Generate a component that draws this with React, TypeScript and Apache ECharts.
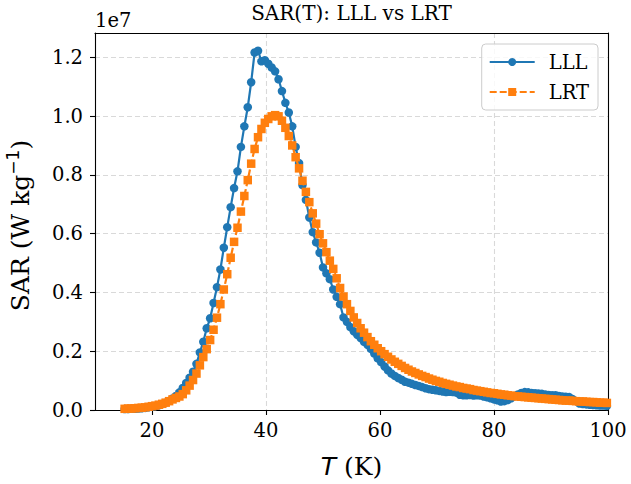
import React, { useEffect, useRef } from 'react';
import * as echarts from 'echarts';

// Temperature grid (K)
const temperatureK = [
  15.2, 15.8, 16.4, 17.0, 17.6, 18.2, 18.8, 19.4, 20.0, 20.6,
  21.2, 21.8, 22.4, 23.0, 23.6, 24.2, 24.8, 25.4, 26.0, 26.6,
  27.2, 27.8, 28.4, 29.0, 29.6, 30.2, 30.8, 31.4, 32.0, 32.6,
  33.2, 33.8, 34.4, 35.0, 35.6, 36.2, 36.8, 37.4, 38.0, 38.6,
  39.2, 39.8, 40.4, 41.0, 41.6, 42.2, 42.8, 43.4, 44.0, 44.6,
  45.2, 45.8, 46.4, 47.0, 47.6, 48.2, 48.8, 49.4, 50.0, 50.6,
  51.2, 51.8, 52.4, 53.0, 53.6, 54.2, 54.8, 55.4, 56.0, 56.6,
  57.2, 57.8, 58.4, 59.0, 59.6, 60.2, 60.8, 61.4, 62.0, 62.6,
  63.2, 63.8, 64.4, 65.0, 65.6, 66.2, 66.8, 67.4, 68.0, 68.6,
  69.2, 69.8, 70.4, 71.0, 71.6, 72.2, 72.8, 73.4, 74.0, 74.6,
  75.2, 75.8, 76.4, 77.0, 77.6, 78.2, 78.8, 79.4, 80.0, 80.6,
  81.2, 81.8, 82.4, 83.0, 83.6, 84.2, 84.8, 85.4, 86.0, 86.6,
  87.2, 87.8, 88.4, 89.0, 89.6, 90.2, 90.8, 91.4, 92.0, 92.6,
  93.2, 93.8, 94.4, 95.0, 95.6, 96.2, 96.8, 97.4, 98.0, 98.6,
  99.2, 99.8, 100.4,
];

// SAR, LLL model (units of 1e7 W/kg)
const sarLLL = [
  0.003, 0.003, 0.004, 0.004, 0.005, 0.006, 0.007, 0.009, 0.011, 0.013,
  0.016, 0.020, 0.025, 0.031, 0.039, 0.048, 0.060, 0.075, 0.092, 0.110,
  0.130, 0.157, 0.196, 0.232, 0.278, 0.312, 0.364, 0.418, 0.478, 0.552,
  0.622, 0.690, 0.755, 0.812, 0.895, 0.965, 1.030, 1.115, 1.216, 1.222,
  1.186, 1.190, 1.178, 1.165, 1.152, 1.125, 1.085, 1.045, 1.012, 0.965,
  0.895, 0.840, 0.765, 0.715, 0.655, 0.605, 0.570, 0.535, 0.485, 0.465,
  0.445, 0.410, 0.385, 0.360, 0.315, 0.300, 0.282, 0.268, 0.256, 0.245,
  0.232, 0.222, 0.208, 0.192, 0.176, 0.163, 0.148, 0.135, 0.124, 0.116,
  0.109, 0.103, 0.096, 0.093, 0.089, 0.085, 0.082, 0.078, 0.074, 0.071,
  0.069, 0.067, 0.065, 0.063, 0.061, 0.062, 0.061, 0.059, 0.052, 0.050,
  0.050, 0.051, 0.049, 0.050, 0.049, 0.046, 0.043, 0.040, 0.036, 0.033,
  0.029, 0.030, 0.034, 0.040, 0.047, 0.053, 0.058, 0.061, 0.060, 0.058,
  0.057, 0.056, 0.055, 0.053, 0.051, 0.050, 0.050, 0.048, 0.046, 0.045,
  0.044, 0.037, 0.030, 0.022, 0.020, 0.019, 0.018, 0.017, 0.016, 0.015,
  0.015, 0.014, 0.014,
];

// SAR, LRT model (units of 1e7 W/kg)
const sarLRT = [
  0.004, 0.005, 0.005, 0.006, 0.007, 0.008, 0.009, 0.011, 0.013, 0.015,
  0.018, 0.021, 0.025, 0.030, 0.036, 0.041, 0.046, 0.054, 0.067, 0.083,
  0.102, 0.124, 0.152, 0.180, 0.207, 0.238, 0.273, 0.314, 0.360, 0.410,
  0.462, 0.518, 0.572, 0.620, 0.675, 0.728, 0.782, 0.838, 0.888, 0.928,
  0.956, 0.977, 0.990, 0.999, 1.003, 0.999, 0.984, 0.960, 0.932, 0.900,
  0.860, 0.822, 0.780, 0.742, 0.707, 0.669, 0.634, 0.598, 0.567, 0.537,
  0.508, 0.480, 0.448, 0.415, 0.386, 0.360, 0.337, 0.315, 0.296, 0.278,
  0.263, 0.248, 0.234, 0.222, 0.210, 0.200, 0.190, 0.181, 0.172, 0.164,
  0.157, 0.150, 0.143, 0.137, 0.131, 0.126, 0.121, 0.116, 0.112, 0.107,
  0.103, 0.099, 0.096, 0.092, 0.089, 0.086, 0.083, 0.080, 0.078, 0.075,
  0.073, 0.071, 0.068, 0.066, 0.064, 0.062, 0.060, 0.058, 0.057, 0.055,
  0.053, 0.052, 0.050, 0.049, 0.047, 0.046, 0.045, 0.044, 0.043, 0.042,
  0.041, 0.040, 0.039, 0.038, 0.037, 0.036, 0.035, 0.034, 0.033, 0.032,
  0.032, 0.031, 0.030, 0.029, 0.029, 0.028, 0.027, 0.027, 0.026, 0.025,
  0.025, 0.024, 0.024,
];

const xTicks = [20, 40, 60, 80, 100];
const yTicks = [0, 0.2, 0.4, 0.6, 0.8, 1.0, 1.2];
const seriesNames = ['LLL', 'LRT'];

export default function App() {
  const ref = useRef<HTMLDivElement>(null);

  useEffect(() => {
    document.body.style.margin = '0';
    const chart = echarts.init(ref.current as HTMLDivElement, null, { renderer: 'svg' });
    const serif = 'DejaVu Serif';

    const plotLeft = 95;
    const plotRight = 608;
    const plotTop = 33;
    const plotBottom = 410;
    const cx = (plotLeft + plotRight) / 2;
    const cy = (plotTop + plotBottom) / 2;
    const spine = { show: true, onZero: false, lineStyle: { color: '#000', width: 1.1 } };
    const gridColor = '#d9d9d9';

    chart.setOption({
      animation: false,
      backgroundColor: '#ffffff',
      grid: {
        left: plotLeft,
        right: 631 - plotRight,
        top: plotTop,
        bottom: 484 - plotBottom,
        containLabel: false,
      },
      xAxis: [
        {
          type: 'value',
          min: 10,
          max: 100,
          interval: 10,
          axisLine: spine,
          axisTick: {
            show: true,
            inside: false,
            length: 5,
            customValues: xTicks,
            lineStyle: { color: '#000', width: 1.1 },
          },
          axisLabel: {
            customValues: xTicks,
            margin: 10,
            fontFamily: serif,
            fontSize: 19.5,
            color: '#000',
            formatter: (v: number) => (v % 20 === 0 ? String(v) : ''),
          },
          splitLine: {
            show: true,
            lineStyle: { color: ['rgba(0,0,0,0)', gridColor], type: [5, 3], width: 1.1 },
          },
        },
        {
          type: 'value',
          position: 'top',
          min: 10,
          max: 100,
          interval: 10,
          axisLine: spine,
          axisTick: { show: false },
          axisLabel: { show: false },
          splitLine: { show: false },
        },
      ],
      yAxis: [
        {
          type: 'value',
          min: 0,
          max: 1.2825,
          interval: 0.2,
          axisLine: spine,
          axisTick: {
            show: true,
            inside: false,
            length: 5,
            customValues: yTicks,
            lineStyle: { color: '#000', width: 1.1 },
          },
          axisLabel: {
            customValues: yTicks,
            margin: 12,
            fontFamily: serif,
            fontSize: 19.5,
            color: '#000',
            formatter: (v: number) => v.toFixed(1),
          },
          splitLine: {
            show: true,
            lineStyle: { color: gridColor, type: [5, 3], width: 1.1 },
          },
        },
        {
          type: 'value',
          position: 'right',
          min: 0,
          max: 1.2825,
          interval: 0.2,
          axisLine: spine,
          axisTick: { show: false },
          axisLabel: { show: false },
          splitLine: { show: false },
        },
      ],
      legend: {
        data: seriesNames,
        orient: 'vertical',
        right: 631 - 598,
        top: 44,
        itemWidth: 45,
        itemHeight: 10,
        itemGap: 10,
        padding: [8, 9, 8, 7],
        backgroundColor: 'rgba(255,255,255,0.8)',
        borderColor: '#cccccc',
        borderWidth: 1,
        borderRadius: 4,
        textStyle: { fontFamily: serif, fontSize: 19.5, color: '#000', padding: [0, 0, 0, 9] },
      },
      graphic: [
        {
          type: 'text',
          x: cx,
          y: 13,
          style: {
            text: 'SAR(T): LLL vs LRT',
            fontFamily: serif,
            fontSize: 20,
            fill: '#000',
            align: 'center',
            verticalAlign: 'middle',
          },
        },
        {
          type: 'text',
          x: plotLeft,
          y: 30,
          style: {
            text: '1e7',
            fontFamily: serif,
            fontSize: 19.5,
            fill: '#000',
            align: 'left',
            verticalAlign: 'bottom',
          },
        },
        {
          type: 'text',
          x: cx,
          y: 466,
          style: {
            text: '{i|T}{a| (K)}',
            align: 'center',
            verticalAlign: 'middle',
            rich: {
              i: { fontFamily: 'DejaVu Sans', fontStyle: 'italic', fontSize: 25, fill: '#000' },
              a: { fontFamily: serif, fontSize: 25, fill: '#000' },
            },
          },
        },
        {
          type: 'text',
          x: 20,
          y: cy + 4,
          rotation: Math.PI / 2,
          style: {
            text: '{a|SAR (W kg}{s|\u22121}{a|)}',
            align: 'center',
            verticalAlign: 'middle',
            rich: {
              a: { fontFamily: serif, fontSize: 25, lineHeight: 32, fill: '#000' },
              s: { fontFamily: 'DejaVu Sans', fontSize: 17, lineHeight: 17, verticalAlign: 'top', fill: '#000' },
            },
          },
        },
      ],
      series: [
        {
          name: seriesNames[0],
          type: 'line',
          xAxisIndex: 0,
          yAxisIndex: 0,
          data: temperatureK.map((t, i) => [t, sarLLL[i]]),
          symbol: 'circle',
          symbolSize: 8.5,
          showAllSymbol: true,
          lineStyle: { color: '#1f77b4', width: 2.2 },
          itemStyle: { color: '#1f77b4', borderWidth: 0 },
          z: 2,
        },
        {
          name: seriesNames[1],
          type: 'line',
          xAxisIndex: 0,
          yAxisIndex: 0,
          data: temperatureK.map((t, i) => [t, sarLRT[i]]),
          symbol: 'rect',
          symbolSize: 8.5,
          showAllSymbol: true,
          lineStyle: { color: '#ff7f0e', width: 2.2, type: [7, 3] },
          itemStyle: { color: '#ff7f0e', borderWidth: 0 },
          z: 3,
        },
      ],
    });

    return () => {
      chart.dispose();
    };
  }, []);

  return <div ref={ref} style={{ width: 631, height: 484 }} />;
}
